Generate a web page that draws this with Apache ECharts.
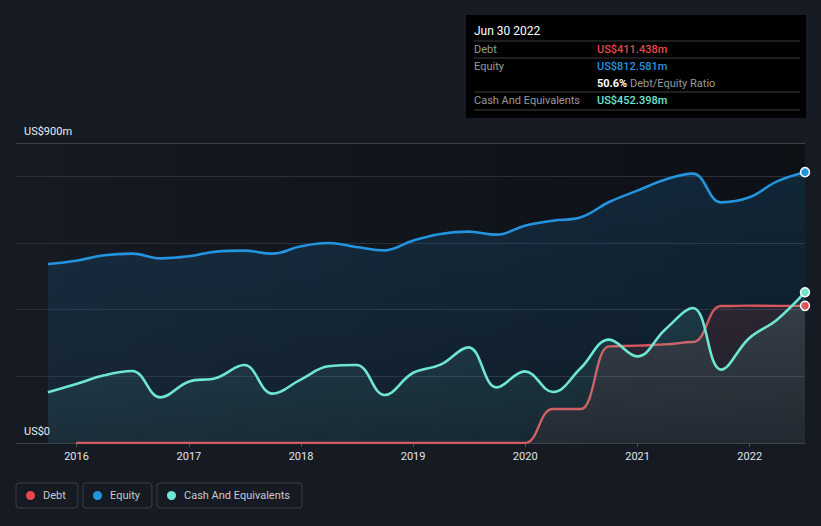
<!DOCTYPE html>
<html><head><meta charset="utf-8">
<script src="https://cdn.jsdelivr.net/npm/echarts@6/dist/echarts.min.js"></script>
<style>html,body{margin:0;padding:0;background:#151a23;}#c{width:821px;height:526px;}</style>
</head><body><div id="c"></div>
<script>
// ---- data ----
const quarterDates = ['2015-09-30','2015-12-31','2016-03-31','2016-06-30','2016-09-30','2016-12-31','2017-03-31','2017-06-30','2017-09-30','2017-12-31','2018-03-31','2018-06-30','2018-09-30','2018-12-31','2019-03-31','2019-06-30','2019-09-30','2019-12-31','2020-03-31','2020-06-30','2020-09-30','2020-12-31','2021-03-31','2021-06-30','2021-09-30','2021-12-31','2022-03-31','2022-06-30'];
const equityValues = [537,547,563,568,554,560,574,577,568,590,600,588,578,607,627,634,625,652,667,677,723,757,790,808,722,737,785,812.581];
const cashValues = [152,177,203,216,137,184,195,234,148,190,230,234,144,210,235,287,167,215,153,225,310,260,340,405,220,315,370,452.398];
const debtDates = ['2015-12-31','2016-03-31','2016-06-30','2016-09-30','2016-12-31','2017-03-31','2017-06-30','2017-09-30','2017-12-31','2018-03-31','2018-06-30','2018-09-30','2018-12-31','2019-03-31','2019-06-30','2019-09-30','2019-12-31','2020-03-31','2020-06-30','2020-09-30','2020-12-31','2021-03-31','2021-06-30','2021-09-30','2021-12-31','2022-03-31','2022-06-30'];
const debtValues = [0,0,0,0,0,0,0,0,0,0,0,0,0,0,0,0,0,102,102,290,292,296,303,411,412,411.4,411.438];
const yLabelText = {0: 'US$0', 900: 'US$900m'};
const tooltipDate = 'Jun 30 2022';

// ---- styles ----
const FONT = 'Roboto, "Noto Sans", sans-serif';
const C_DEBT = '#e8484d', C_DEBT_LINE = '#d6575d', C_EQ = '#2394df', C_CASH = '#6ee6d2';
const YEAR_MS = 365.25 * 86400000;

function pairs(dates, vals, color) {
  return vals.map((v, i) => {
    const item = { value: [dates[i], v] };
    if (i === vals.length - 1) {
      item.symbol = 'circle';
      item.symbolSize = 9;
      item.itemStyle = { color: color, borderColor: '#ffffff', borderWidth: 1.5 };
    }
    return item;
  });
}
function vgrad(c0, c1) {
  return { type: 'linear', x: 0, y: 143, x2: 0, y2: 443, global: true,
    colorStops: [{ offset: 0, color: c0 }, { offset: 1, color: c1 }] };
}

const lastDebt = debtValues[debtValues.length - 1];
const lastEq = equityValues[equityValues.length - 1];
const lastCash = cashValues[cashValues.length - 1];
const fmt = v => 'US$' + v.toFixed(3) + 'm';
const ratio = (lastDebt / lastEq * 100).toFixed(1) + '%';

const legendCommon = {
  top: 483, icon: 'circle', itemWidth: 9, itemHeight: 9,
  borderColor: '#3a3f48', borderWidth: 1, borderRadius: 3,
  padding: [7, 12, 7, 10],
  textStyle: { color: '#c8cbd0', fontSize: 11, fontFamily: FONT, padding: [1, 0, 0, 3] },
  selectedMode: false
};

const tx = 474, vx = 597;
const gText = (text, x, y, fill, size, weight) => ({
  type: 'text', x: x, y: y, silent: true, z: 11,
  style: { text: text, fill: fill, fontSize: size, fontFamily: FONT, fontWeight: weight || 'normal', verticalAlign: 'middle' }
});
const gLine = (y) => ({ type: 'line', silent: true, z: 11, shape: { x1: 474, y1: y, x2: 800, y2: y }, style: { stroke: '#3f3f3f', lineWidth: 1 } });

const option = {
  backgroundColor: '#151a23',
  animation: false,
  grid: {
    left: 16, right: 16, top: 143, bottom: 83, show: true, borderWidth: 0,
    backgroundColor: { type: 'linear', x: 0, y: 0, x2: 1, y2: 0,
      colorStops: [{ offset: 0, color: 'rgba(0,0,0,0)' }, { offset: 1, color: 'rgba(0,0,0,0.4)' }] }
  },
  xAxis: {
    type: 'time', min: '2015-06-18', max: '2022-06-30',
    minInterval: YEAR_MS * 0.9, maxInterval: YEAR_MS * 1.1,
    axisLine: { lineStyle: { color: '#3d434c', width: 1 } },
    axisTick: { show: true, length: 4, lineStyle: { color: '#4a505a' } },
    axisLabel: { color: '#e2e4e8', fontSize: 11, fontFamily: FONT, margin: 8,
      showMinLabel: false, showMaxLabel: false, formatter: '{yyyy}' },
    splitLine: { show: false }
  },
  yAxis: {
    type: 'value', min: 0, max: 900, interval: 200,
    axisLine: { show: false }, axisTick: { show: false },
    axisLabel: { inside: true, margin: 8, color: '#eceef2', fontSize: 11, fontFamily: FONT,
      verticalAlign: 'bottom', padding: [0, 0, 6, 0],
      formatter: v => yLabelText[v] || '' },
    splitLine: { lineStyle: { color: ['#2a2f38','#2a2f38','#2a2f38','#2a2f38','#2a2f38','#3b4049'], width: 1 } }
  },
  legend: [
    Object.assign({ data: ['Debt'], left: 16 }, legendCommon),
    Object.assign({ data: ['Equity'], left: 83 }, legendCommon),
    Object.assign({ data: ['Cash And Equivalents'], left: 157 }, legendCommon)
  ],
  series: [
    { name: 'Equity', type: 'line', symbol: 'none', smooth: 0.4, z: 2,
      data: pairs(quarterDates, equityValues, C_EQ),
      itemStyle: { color: C_EQ },
      lineStyle: { color: C_EQ, width: 2.6 },
      areaStyle: { color: vgrad('rgba(35,148,223,0.25)', 'rgba(35,148,223,0.11)') } },
    { name: 'Debt', type: 'line', symbol: 'none', smooth: 0.5, smoothMonotone: 'x', z: 3,
      data: pairs(debtDates, debtValues, C_DEBT),
      itemStyle: { color: C_DEBT },
      lineStyle: { color: C_DEBT_LINE, width: 2.4 },
      areaStyle: { color: vgrad('rgba(232,72,77,0.28)', 'rgba(232,72,77,0.10)') } },
    { name: 'Cash And Equivalents', type: 'line', symbol: 'none', smooth: 0.4, z: 4,
      data: pairs(quarterDates, cashValues, C_CASH),
      itemStyle: { color: C_CASH },
      lineStyle: { color: C_CASH, width: 2.6 },
      areaStyle: { color: vgrad('rgba(110,230,210,0.30)', 'rgba(110,230,210,0.08)') } }
  ],
  graphic: [
    { type: 'rect', silent: true, z: 10, shape: { x: 466, y: 15, width: 340, height: 103 }, style: { fill: '#000000' } },
    gText(tooltipDate, tx, 31, '#ffffff', 12),
    gLine(41),
    gText('Debt', tx, 49, '#9a9a9a', 11),
    gText(fmt(lastDebt), vx, 49, C_DEBT, 11, 500),
    gLine(58),
    gText('Equity', tx, 66.5, '#9a9a9a', 11),
    gText(fmt(lastEq), vx, 66.5, C_EQ, 11, 500),
    gText(ratio, vx, 83.5, '#ffffff', 11, 'bold'),
    gText('Debt/Equity Ratio', 630, 83.5, '#9a9a9a', 11),
    gLine(92),
    gText('Cash And Equivalents', tx, 100, '#9a9a9a', 11),
    gText(fmt(lastCash), vx, 100, C_CASH, 11, 500),
    gLine(110)
  ]
};

const chart = echarts.init(document.getElementById('c'), null, { renderer: 'svg' });
chart.setOption(option);
</script>
</body></html>
